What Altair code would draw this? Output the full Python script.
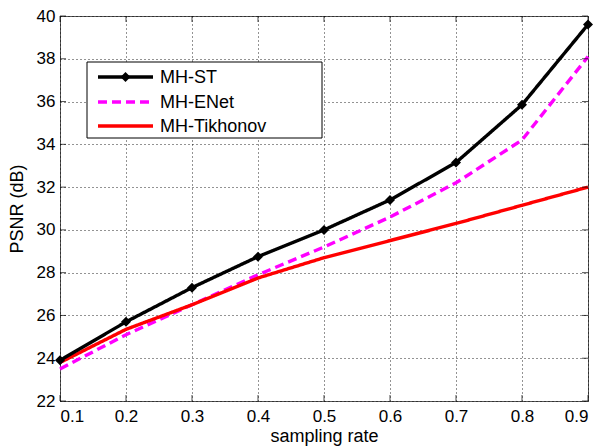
import altair as alt
import pandas as pd

rates = [0.1, 0.2, 0.3, 0.4, 0.5, 0.6, 0.7, 0.8, 0.9]
series_names = ["MH-ST", "MH-ENet", "MH-Tikhonov"]
mh_st = [23.9, 25.7, 27.3, 28.75, 30.0, 31.4, 33.15, 35.85, 39.6]
mh_enet = [23.5, 25.1, 26.5, 27.9, 29.2, 30.6, 32.2, 34.2, 38.1]
mh_tik = [23.8, 25.35, 26.5, 27.75, 28.7, 29.5, 30.3, 31.15, 32.0]
y_ticks = [22, 24, 26, 28, 30, 32, 34, 36, 38, 40]
x_ticks = [0.1, 0.2, 0.3, 0.4, 0.5, 0.6, 0.7, 0.8, 0.9]

colors = ["#000000", "#FF00FF", "#FF0000"]
dashes = [[1, 0], [9, 5], [1, 0]]

rows = []
for name, vals in zip(series_names, [mh_st, mh_enet, mh_tik]):
    for r, v in zip(rates, vals):
        rows.append({"rate": r, "psnr": v, "series": name})
df = pd.DataFrame(rows)

FONT = "Liberation Sans"
W, H = 528, 385
TOP = 16  # page y of plot top (used to place legend)

xs = alt.Scale(domain=[0.1, 0.9], nice=False, zero=False)
ys_ = alt.Scale(domain=[22, 40], nice=False, zero=False)
x = alt.X("rate:Q", scale=xs,
          axis=alt.Axis(title="sampling rate", values=x_ticks, format=".1f"))
y = alt.Y("psnr:Q", scale=ys_,
          axis=alt.Axis(title="PSNR (dB)", values=y_ticks, format="d"))

def line_layer(name, color, dash):
    return alt.Chart(df[df.series == name]).mark_line(
        strokeWidth=3.4, color=color, strokeDash=dash
    ).encode(x=x, y=y)

layers = [
    line_layer("MH-ENet", colors[1], dashes[1]),
    line_layer("MH-Tikhonov", colors[2], dashes[2]),
    line_layer("MH-ST", colors[0], dashes[0]),
]

pts = alt.Chart(df[df.series == "MH-ST"]).mark_point(
    shape="diamond", filled=True, color="black", size=100, opacity=1
).encode(x=x, y=y)

# inward ticks (MATLAB style)
xt = pd.DataFrame({"rate": x_ticks})
yt = pd.DataFrame({"psnr": y_ticks})
tick_layers = []
for yy in [H - 3, 3]:
    tick_layers.append(alt.Chart(xt).mark_tick(orient="vertical", size=6, thickness=1, color="black").encode(
        x=alt.X("rate:Q", scale=xs), y=alt.value(yy)))
for xx in [3, W - 3]:
    tick_layers.append(alt.Chart(yt).mark_tick(orient="horizontal", size=6, thickness=1, color="black").encode(
        y=alt.Y("psnr:Q", scale=ys_), x=alt.value(xx)))

# legend (decoration)
one = pd.DataFrame({"k": [0]})
leg_box = alt.Chart(one).mark_rect(fill="white", stroke="black", strokeWidth=1).encode(
    x=alt.value(87 - 60), x2=alt.value(322 - 60), y=alt.value(62 - TOP), y2=alt.value(138 - TOP))
leg_layers = [leg_box]
ys = [77 - TOP, 102 - TOP, 126 - TOP]
for name, color, dash, yy in zip(series_names, colors, dashes, ys):
    leg_layers.append(alt.Chart(one).mark_rule(color=color, strokeWidth=3.4, strokeDash=dash).encode(
        x=alt.value(38), x2=alt.value(93), y=alt.value(yy)))
    leg_layers.append(alt.Chart(one).mark_text(
        text=name, align="left", baseline="middle", font=FONT, fontSize=18, color="black"
    ).encode(x=alt.value(100), y=alt.value(yy + 1)))
leg_layers.append(alt.Chart(one).mark_point(
    shape="diamond", filled=True, color="black", size=100, opacity=1
).encode(x=alt.value(65.5), y=alt.value(ys[0])))

chart = alt.layer(*layers, pts, *tick_layers, *leg_layers).properties(
    width=W, height=H,
    background="white",
    autosize=alt.AutoSizeParams(type="none"),
    padding={"left": 52, "top": 8, "right": 6, "bottom": 46},
).configure_view(
    stroke="#555555", strokeWidth=1
).configure_axis(
    labelFont=FONT, titleFont=FONT, labelFontSize=17, titleFontSize=18,
    labelColor="black", titleColor="black", titleFontWeight="normal",
    domain=False, ticks=False,
    grid=True, gridColor="black", gridDash=[1, 3], gridOpacity=0.85, gridWidth=1,
).configure_axisX(
    labelPadding=7, titlePadding=3
).configure_axisY(
    labelPadding=5, titlePadding=10
)

chart.save("out.html", embed_options={"renderer": "svg", "actions": False})
